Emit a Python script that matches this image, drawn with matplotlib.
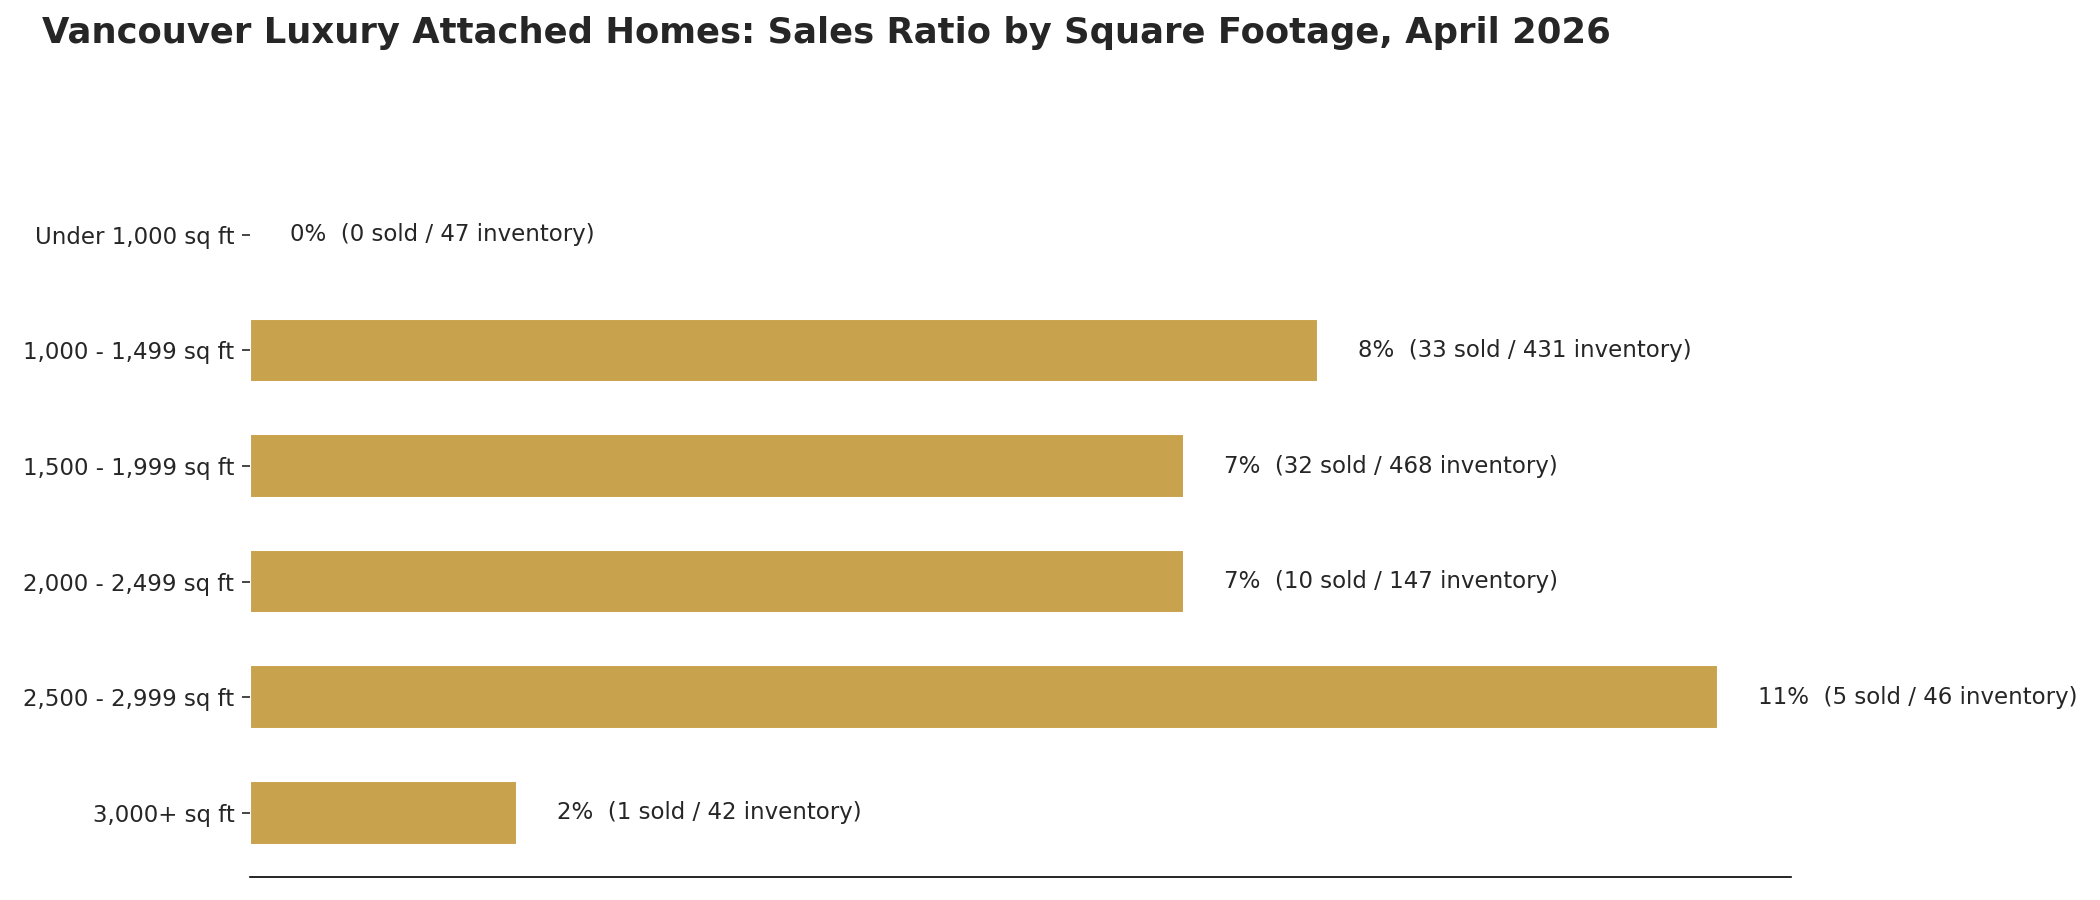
import matplotlib
matplotlib.use("Agg")
import matplotlib.pyplot as plt
import seaborn as sns

categories = [
    "Under 1,000 sq ft",
    "1,000 - 1,499 sq ft",
    "1,500 - 1,999 sq ft",
    "2,000 - 2,499 sq ft",
    "2,500 - 2,999 sq ft",
    "3,000+ sq ft",
]
ratio_pct = [0, 8, 7, 7, 11, 2]
sold = [0, 33, 32, 10, 5, 1]
inventory = [47, 431, 468, 147, 46, 42]

sns.set_style("white")
plt.rcParams["font.family"] = ["DejaVu Sans"]

fig, ax = plt.subplots(figsize=(14, 6), dpi=150)
ypos = list(range(len(categories)))
ax.barh(ypos, ratio_pct, height=0.55, color="#C8A24C")
ax.set_yticks(ypos)
ax.set_yticklabels(categories, fontsize=11, color="#262626")
ax.invert_yaxis()
ax.set_xlim(0, max(ratio_pct) * 1.05)
ax.set_xticks([])

for y, pct, s, inv in zip(ypos, ratio_pct, sold, inventory):
    ax.text(pct + 0.3, y, f"{pct}%  ({s} sold / {inv} inventory)",
            va="center", ha="left", fontsize=11, color="#262626")

for side in ["top", "right", "left"]:
    ax.spines[side].set_visible(False)
ax.spines["bottom"].set_color("black")
ax.spines["bottom"].set_linewidth(0.8)
ax.tick_params(axis="y", left=True, length=4, color="#262626")

fig.text(0.02, 0.982, "Vancouver Luxury Attached Homes: Sales Ratio by Square Footage, April 2026",
         fontsize=17, fontweight="bold", color="#262626", ha="left", va="top")
fig.subplots_adjust(left=0.119, right=0.853, top=0.81, bottom=0.026)
fig.savefig("out.png", dpi=150)
